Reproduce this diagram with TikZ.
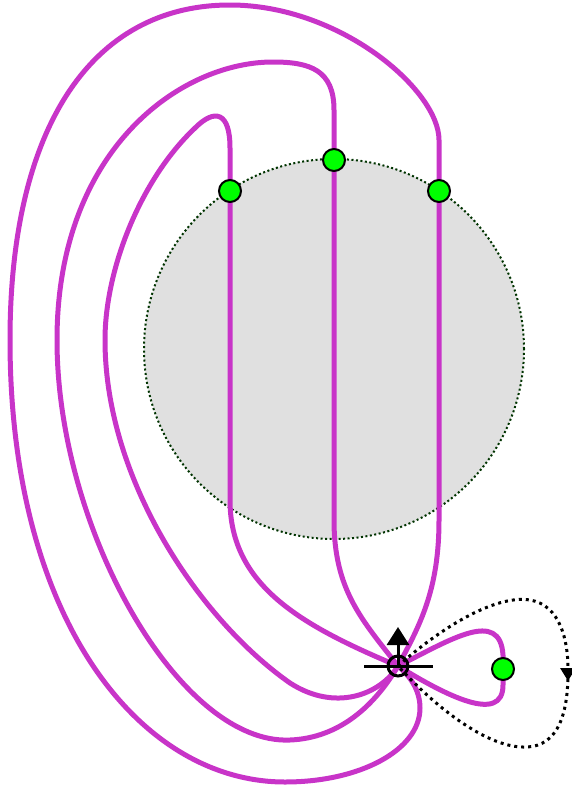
\documentclass[tikz,border=0pt]{standalone}
\usetikzlibrary{arrows.meta}
\definecolor{mag}{RGB}{200,52,200}
\definecolor{disc}{RGB}{224,224,224}
\definecolor{rim}{RGB}{0,51,0}
\definecolor{dotgreen}{RGB}{0,255,0}
\begin{document}
\begin{tikzpicture}[x=1pt,y=-1pt,
  fieldline/.style={draw=mag,line width=5pt,line cap=round,line join=round},
  greendot/.style={circle,draw=black,line width=2pt,fill=dotgreen,minimum size=22pt,inner sep=0pt},
  dotloop/.style={draw=black,line width=3pt,dash pattern=on 3pt off 4pt},
  sym/.style={draw=black,line width=3pt}]
\useasboundingbox (0,0) rectangle (572,787);
% disc
\node[circle,fill=disc,draw=rim,line width=2pt,dash pattern=on 2pt off 2.5pt,minimum size=380pt,inner sep=0pt] (disk) at (334,349) {};
\coordinate (P) at (398,666);
\coordinate (d1c) at (230,191);
\coordinate (d2c) at (334,160);
\coordinate (d3c) at (439,191);
\coordinate (d4c) at (503,669);
% inner loop through d1
\path[fieldline] (P) .. controls (300,625) and (230,585) .. (230,500) -- (d1c) -- (230,148)
  .. controls (230,112) and (215,108) .. (195,128)
  .. controls (140,180) and (105,270) .. (105,340)
  .. controls (105,480) and (200,620) .. (290,683)
  .. controls (335,712) and (380,695) .. (P);
% middle loop through d2
\path[fieldline] (P) .. controls (362,620) and (334,590) .. (334,520) -- (d2c) -- (334,110)
  .. controls (334,70) and (310,62) .. (273,62)
  .. controls (180,62) and (57,150) .. (57,340)
  .. controls (57,530) and (180,745) .. (290,740)
  .. controls (340,738) and (375,705) .. (P);
% outer loop through d3
\path[fieldline] (P) .. controls (420,625) and (439,590) .. (439,520) -- (d3c) -- (439,140)
  .. controls (439,90) and (340,5) .. (230,5)
  .. controls (90,5) and (10,130) .. (10,340)
  .. controls (10,620) and (140,782) .. (285,782)
  .. controls (360,782) and (420,750) .. (420,708)
  .. controls (420,690) and (410,676) .. (P);
% right teardrop through d4
\path[fieldline] (P) .. controls (450,640) and (500,608) .. (503,655) -- (d4c) -- (503,685)
  .. controls (503,725) and (445,695) .. (P);
% dotted loop
\draw[dotloop,-{Triangle[width=15pt,length=13pt]}] (P) .. controls (450,620) and (500,595) .. (530,600)
  .. controls (560,605) and (568,640) .. (568,681);
\coordinate (a2) at (568,672);
\draw[dotloop] (a2) .. controls (568,710) and (560,747) .. (525,747)
  .. controls (490,748) and (440,712) .. (P);
% green dots
\node[greendot] (d1) at (d1c) {};
\node[greendot] (d2) at (d2c) {};
\node[greendot] (d3) at (d3c) {};
\node[greendot] (d4) at (d4c) {};
% symbol at P
\node[circle,draw=black,line width=3pt,minimum size=20pt,inner sep=0pt] (ring) at (P) {};
\coordinate (barL) at (364,666);
\coordinate (barR) at (433,666);
\draw[sym] (barL) -- (barR);
\coordinate (tip) at (398,627);
\draw[sym,-{Triangle[width=22pt,length=18pt]}] (P) -- (tip);
\end{tikzpicture}
\end{document}
